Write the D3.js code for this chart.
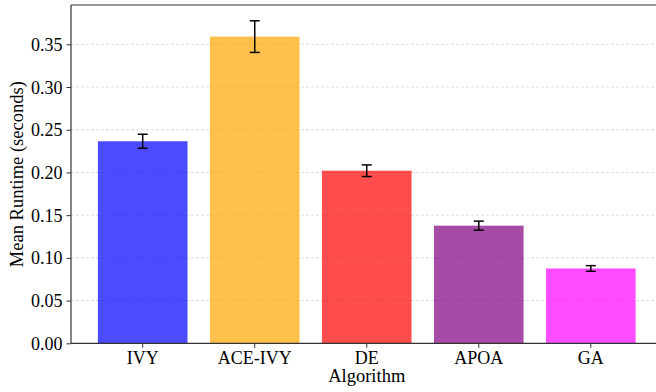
<!DOCTYPE html>
<html>
<head>
<meta charset="utf-8">
<script src="https://cdn.jsdelivr.net/npm/d3@7"></script>
<style>
  body { margin: 0; background: #fff; }
</style>
</head>
<body>
<div id="chartArea"></div>
<script>
// data
var algorithms = ["IVY", "ACE-IVY", "DE", "APOA", "GA"];
var meanRuntime = [0.2365, 0.359, 0.202, 0.1377, 0.0876];
var errRuntime = [0.0082, 0.0185, 0.0068, 0.0053, 0.0033];
var barColors = ["blue", "orange", "red", "purple", "magenta"];
var yTicks = [0, 0.05, 0.10, 0.15, 0.20, 0.25, 0.30, 0.35];

var serif = "'Liberation Serif', 'Times New Roman', Times, serif";

// dimensions (plot area runs past the right edge, as in the original)
var W = 656, H = 392;
var plot = { left: 71, top: 5, bottom: 343.3, right: 662.5 };

var svg = d3.select("#chartArea").append("svg")
  .attr("width", W)
  .attr("height", H);

var x = d3.scaleBand()
  .domain(algorithms)
  .range([plot.left, plot.right])
  .paddingInner(0.2)
  .paddingOuter(0.24);

var y = d3.scaleLinear()
  .domain([0, 0.396])
  .range([plot.bottom, plot.top]);

// grid lines
svg.append("g")
  .selectAll("line")
  .data(yTicks.slice(1))
  .enter()
  .append("line")
  .attr("x1", plot.left)
  .attr("x2", plot.right)
  .attr("y1", function(d) { return y(d); })
  .attr("y2", function(d) { return y(d); })
  .attr("stroke", "#d6d6d6")
  .attr("stroke-width", 0.8)
  .attr("stroke-dasharray", "3,2");

// bars
svg.append("g")
  .selectAll("rect")
  .data(algorithms)
  .enter()
  .append("rect")
  .attr("x", function(d) { return x(d); })
  .attr("width", x.bandwidth())
  .attr("y", function(d, i) { return y(meanRuntime[i]); })
  .attr("height", function(d, i) { return y(0) - y(meanRuntime[i]); })
  .attr("fill", function(d, i) { return barColors[i]; })
  .attr("fill-opacity", 0.7);

// error bars
var eb = svg.append("g")
  .attr("stroke", "#000")
  .attr("stroke-width", 1.5)
  .selectAll("g")
  .data(algorithms)
  .enter()
  .append("g");

eb.append("line")
  .attr("x1", function(d) { return x(d) + x.bandwidth() / 2; })
  .attr("x2", function(d) { return x(d) + x.bandwidth() / 2; })
  .attr("y1", function(d, i) { return y(meanRuntime[i] - errRuntime[i]); })
  .attr("y2", function(d, i) { return y(meanRuntime[i] + errRuntime[i]); });

[-1, 1].forEach(function(s) {
  eb.append("line")
    .attr("x1", function(d) { return x(d) + x.bandwidth() / 2 - 5; })
    .attr("x2", function(d) { return x(d) + x.bandwidth() / 2 + 5; })
    .attr("y1", function(d, i) { return y(meanRuntime[i] + s * errRuntime[i]); })
    .attr("y2", function(d, i) { return y(meanRuntime[i] + s * errRuntime[i]); });
});

// axes
var yAxis = svg.append("g")
  .attr("transform", "translate(" + plot.left + ",0)")
  .call(d3.axisLeft(y).tickValues(yTicks).tickFormat(d3.format(".2f")).tickSize(4.5).tickPadding(4));
yAxis.attr("font-family", serif).attr("font-size", 18);
yAxis.select(".domain").remove();
yAxis.selectAll("line").attr("stroke", "#333");
yAxis.selectAll("text").attr("fill", "#000").attr("dy", "0.34em");

var xAxis = svg.append("g")
  .attr("transform", "translate(0," + plot.bottom + ")")
  .call(d3.axisBottom(x).tickSize(4.5).tickPadding(3));
xAxis.attr("font-family", serif).attr("font-size", 18);
xAxis.select(".domain").remove();
xAxis.selectAll("line").attr("stroke", "#333");
xAxis.selectAll("text").attr("fill", "#000").attr("dy", "0.71em");

// spines
svg.append("line").attr("x1", plot.left).attr("x2", plot.left).attr("y1", plot.top).attr("y2", plot.bottom)
  .attr("stroke", "#333").attr("stroke-width", 1.2);
svg.append("line").attr("x1", plot.left).attr("x2", plot.right).attr("y1", plot.bottom).attr("y2", plot.bottom)
  .attr("stroke", "#333").attr("stroke-width", 1.2);
svg.append("line").attr("x1", plot.left).attr("x2", plot.right).attr("y1", plot.top).attr("y2", plot.top)
  .attr("stroke", "#333").attr("stroke-width", 1.2);

// axis labels
svg.append("text")
  .attr("x", (plot.left + plot.right) / 2)
  .attr("y", 382)
  .attr("text-anchor", "middle")
  .attr("font-family", serif)
  .attr("font-size", 18.5)
  .text("Algorithm");

svg.append("text")
  .attr("transform", "translate(23," + (plot.top + plot.bottom) / 2 + ") rotate(-90)")
  .attr("text-anchor", "middle")
  .attr("font-family", serif)
  .attr("font-size", 18.5)
  .text("Mean Runtime (seconds)");
</script>
</body>
</html>
